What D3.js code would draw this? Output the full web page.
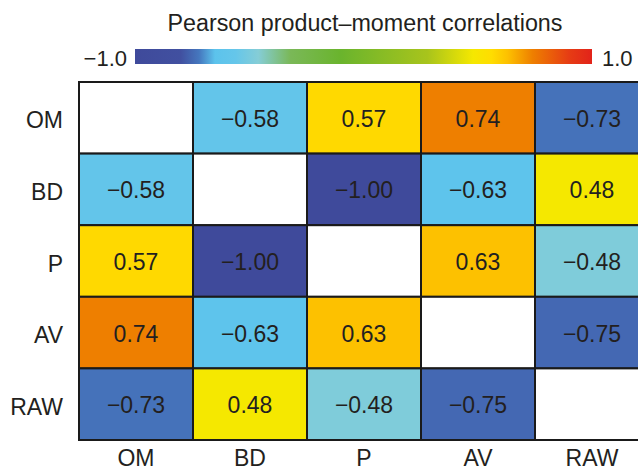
<!DOCTYPE html>
<html>
<head>
<meta charset="utf-8">
<script src="https://cdn.jsdelivr.net/npm/d3@7"></script>
<style>
  html, body { margin: 0; padding: 0; background: #fff; }
  svg { display: block; }
  text { font-family: "Liberation Sans", Arial, sans-serif; fill: #231f20; }
</style>
</head>
<body>
<svg id="chart" width="638" height="467"></svg>
<script>
// ---- data ----
const variables = ["OM", "BD", "P", "AV", "RAW"];
const rowOM  = [null, -0.58, 0.57, 0.74, -0.73];
const rowBD  = [-0.58, null, -1.00, -0.63, 0.48];
const rowP   = [0.57, -1.00, null, 0.63, -0.48];
const rowAV  = [0.74, -0.63, 0.63, null, -0.75];
const rowRAW = [-0.73, 0.48, -0.48, -0.75, null];
const matrix = [rowOM, rowBD, rowP, rowAV, rowRAW];
const colorbarTicks = [-1, 1];
const title = "Pearson product\u2013moment correlations";

// colour scale stops
const stopValues = [-1, -0.8, -0.72, -0.65, -0.56, -0.46, -0.32, -0.1, 0.28, 0.48, 0.56, 0.63, 0.74, 0.9, 1];
const stopColors = ["#3f4a9b", "#4150a0", "#4577be", "#5cc3ec", "#65c6ea", "#85cdd6", "#7ab858", "#6ab42d",
                    "#a8c41c", "#f5e800", "#ffdd00", "#fdc100", "#ee7f00", "#e63c14", "#e2231a"];

// ---- drawing ----
const svg = d3.select("#chart");
const color = d3.scaleLinear().domain(stopValues).range(stopColors).interpolate(d3.interpolateRgb).clamp(true);

const x = d3.scaleBand().domain(variables).range([79, 649]);
const y = d3.scaleBand().domain(variables).range([82, 440]);
const fmt = d3.format(".2f");
const tickFmt = d3.format(".1f");

// title
svg.append("text")
  .attr("x", 365).attr("y", 31)
  .attr("text-anchor", "middle")
  .attr("font-size", 23.3)
  .text(title);

// colorbar
const cb = d3.scaleLinear().domain([-1, 1]).range([135, 592]);
const defs = svg.append("defs");
const grad = defs.append("linearGradient").attr("id", "cbgrad")
  .attr("x1", "0%").attr("x2", "100%").attr("y1", "0%").attr("y2", "0%");
grad.selectAll("stop").data(stopValues).join("stop")
  .attr("offset", d => ((d + 1) / 2 * 100) + "%")
  .attr("stop-color", d => color(d));
svg.append("rect")
  .attr("x", cb(-1)).attr("y", 49)
  .attr("width", cb(1) - cb(-1)).attr("height", 15)
  .attr("fill", "url(#cbgrad)");
svg.selectAll("text.cbtick").data(colorbarTicks).join("text")
  .attr("class", "cbtick")
  .attr("x", d => d < 0 ? cb(d) - 8 : cb(d) + 10)
  .attr("y", 66)
  .attr("text-anchor", d => d < 0 ? "end" : "start")
  .attr("font-size", 22)
  .text(d => tickFmt(d));

// cells
const cells = [];
matrix.forEach((row, i) => row.forEach((v, j) => cells.push({ r: variables[i], c: variables[j], v })));

const g = svg.append("g");
g.selectAll("rect.cell").data(cells).join("rect")
  .attr("class", "cell")
  .attr("x", d => x(d.c)).attr("y", d => y(d.r))
  .attr("width", x.bandwidth()).attr("height", y.bandwidth())
  .attr("fill", d => d.v === null ? "#ffffff" : color(d.v))
  .attr("stroke", "#1a1a1a").attr("stroke-width", 2);

g.selectAll("text.val").data(cells.filter(d => d.v !== null)).join("text")
  .attr("class", "val")
  .attr("x", d => x(d.c) + x.bandwidth() / 2)
  .attr("y", d => y(d.r) + y.bandwidth() / 2 + 9)
  .attr("text-anchor", "middle")
  .attr("font-size", 23)
  .text(d => fmt(d.v));

// axes
const yAxis = svg.append("g").attr("transform", "translate(63,0)")
  .call(d3.axisLeft(y).tickSize(0).tickPadding(0));
yAxis.select(".domain").remove();
yAxis.selectAll("text")
  .attr("font-size", 23).attr("dy", null).attr("x", 0)
  .attr("y", 10.5)
  .attr("fill", "#231f20")
  .style("font-family", "'Liberation Sans', Arial, sans-serif");

const xAxis = svg.append("g").attr("transform", "translate(0,441)")
  .call(d3.axisBottom(x).tickSize(0).tickPadding(0));
xAxis.select(".domain").remove();
xAxis.selectAll("text")
  .attr("font-size", 23).attr("dy", null)
  .attr("y", 25)
  .attr("fill", "#231f20")
  .style("font-family", "'Liberation Sans', Arial, sans-serif");
</script>
</body>
</html>
